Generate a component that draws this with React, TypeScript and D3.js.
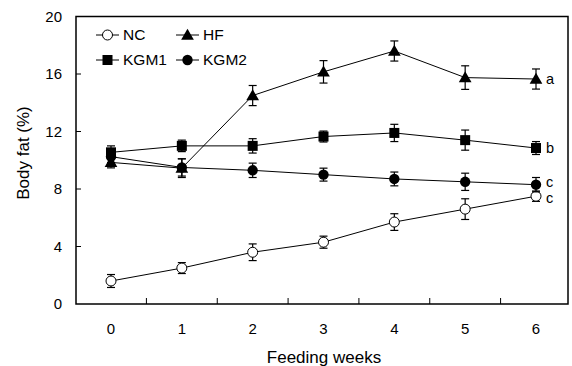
import * as d3 from "d3"

const weeks = [0, 1, 2, 3, 4, 5, 6]
const yTicks = [0, 4, 8, 12, 16, 20]

const ncMean = [1.6, 2.5, 3.6, 4.3, 5.7, 6.6, 7.5]
const ncErr = [0.45, 0.38, 0.58, 0.42, 0.58, 0.72, 0.36]
const hfMean = [9.85, 9.45, 14.5, 16.15, 17.6, 15.75, 15.65]
const hfErr = [0.38, 0.65, 0.7, 0.78, 0.7, 0.82, 0.7]
const kgm1Mean = [10.55, 11.0, 11.0, 11.65, 11.9, 11.4, 10.85]
const kgm1Err = [0.45, 0.4, 0.5, 0.38, 0.6, 0.7, 0.45]
const kgm2Mean = [10.25, 9.5, 9.3, 9.0, 8.7, 8.5, 8.3]
const kgm2Err = [0.4, 0.6, 0.5, 0.45, 0.48, 0.6, 0.5]

// significance letters, same order as series
const groupLabels = ["c", "a", "b", "c"]

type Marker = "circleOpen" | "triangle" | "square" | "circle"

const series: { name: string; mean: number[]; err: number[]; marker: Marker }[] = [
  { name: "NC", mean: ncMean, err: ncErr, marker: "circleOpen" },
  { name: "HF", mean: hfMean, err: hfErr, marker: "triangle" },
  { name: "KGM1", mean: kgm1Mean, err: kgm1Err, marker: "square" },
  { name: "KGM2", mean: kgm2Mean, err: kgm2Err, marker: "circle" },
]

const font = "'Liberation Sans', Arial, sans-serif"

function MarkerShape({ type, cx, cy }: { type: Marker; cx: number; cy: number }) {
  if (type === "circleOpen") return <circle cx={cx} cy={cy} r={5} fill="#fff" stroke="#000" strokeWidth={1} />
  if (type === "circle") return <circle cx={cx} cy={cy} r={5.2} fill="#000" />
  if (type === "square") return <rect x={cx - 5} y={cy - 5} width={10} height={10} fill="#000" />
  const path = d3.symbol(d3.symbolTriangle, 70)()
  return <path d={path || ""} transform={`translate(${cx},${cy + 1})`} fill="#000" />
}

export default function App() {
  const left = 76
  const right = 568
  const top = 16.5
  const bottom = 304

  const x = d3.scaleLinear().domain([0, 6]).range([111, 536])
  const y = d3.scaleLinear().domain([0, 20]).range([bottom, top])
  const line = d3
    .line<number>()
    .x((_, i) => x(weeks[i]))
    .y((d) => y(d))

  const minorTicks = weeks.slice(0, 6).map((w) => w + 0.5)

  const legend = [
    { s: series[0], lx: 96, ly: 35 },
    { s: series[1], lx: 176, ly: 35 },
    { s: series[2], lx: 96, ly: 60 },
    { s: series[3], lx: 176, ly: 60 },
  ]

  // small vertical nudges so the two "c" letters don't collide
  const letterShift: Record<string, number> = { NC: 2, HF: 0, KGM1: 0, KGM2: -2 }

  return (
    <svg width={572} height={366} style={{ position: "absolute", left: 0, top: 0 }} fontFamily={font}>
      <rect width={572} height={366} fill="#fff" />

      {/* series */}
      {series.map((s) => (
        <g key={s.name}>
          <path d={line(s.mean) || ""} fill="none" stroke="#000" strokeWidth={1} />
          {s.mean.map((m, i) => {
            const cx = x(weeks[i])
            const y1 = y(m + s.err[i])
            const y2 = y(m - s.err[i])
            return (
              <g key={i} stroke="#000" strokeWidth={1.2}>
                <line x1={cx} x2={cx} y1={y1} y2={y2} />
                <line x1={cx - 4} x2={cx + 4} y1={y1} y2={y1} />
                <line x1={cx - 4} x2={cx + 4} y1={y2} y2={y2} />
              </g>
            )
          })}
          {s.mean.map((m, i) => (
            <MarkerShape key={i} type={s.marker} cx={x(weeks[i])} cy={y(m)} />
          ))}
        </g>
      ))}

      {/* group letters */}
      {series.map((s, i) => (
        <text key={s.name} x={x(6) + 10} y={y(s.mean[6]) + letterShift[s.name]} dy="0.32em" fontSize={14.5}>
          {groupLabels[i]}
        </text>
      ))}

      {/* frame */}
      <rect x={left} y={top} width={right - left} height={bottom - top} fill="none" stroke="#000" strokeWidth={1.5} />

      {/* y ticks */}
      {yTicks.map((t) => (
        <g key={t}>
          {t > 0 && t < 20 && <line x1={left} x2={left + 5} y1={y(t)} y2={y(t)} stroke="#000" strokeWidth={1} />}
          <text x={62} y={y(t)} dy="0.35em" textAnchor="end" fontSize={15}>
            {t}
          </text>
        </g>
      ))}

      {/* x ticks */}
      {minorTicks.map((t) => (
        <line key={t} x1={x(t)} x2={x(t)} y1={bottom} y2={bottom - 6} stroke="#000" strokeWidth={1} />
      ))}
      {weeks.map((w) => (
        <text key={w} x={x(w)} y={334} textAnchor="middle" fontSize={15}>
          {w}
        </text>
      ))}

      <text x={324} y={363} textAnchor="middle" fontSize={17}>
        Feeding weeks
      </text>
      <text transform="translate(29,153) rotate(-90)" textAnchor="middle" fontSize={17}>
        Body fat (%)
      </text>

      {/* legend */}
      {legend.map(({ s, lx, ly }) => (
        <g key={s.name}>
          <line x1={lx} x2={lx + 23} y1={ly} y2={ly} stroke="#000" strokeWidth={1} />
          <MarkerShape type={s.marker} cx={lx + 11.5} cy={ly} />
          <text x={lx + 27} y={ly} dy="0.35em" fontSize={15.5}>
            {s.name}
          </text>
        </g>
      ))}
    </svg>
  )
}
